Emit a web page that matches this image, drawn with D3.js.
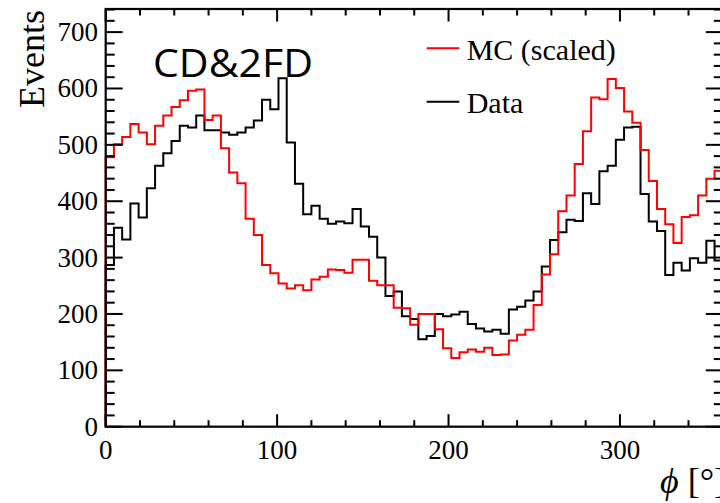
<!DOCTYPE html>
<html>
<head>
<meta charset="utf-8">
<script src="https://cdn.jsdelivr.net/npm/d3@7"></script>
<style>
  html, body { margin: 0; padding: 0; background: #fff; }
  svg { display: block; }
</style>
</head>
<body>
<svg id="chart" width="720" height="503"></svg>
<script>
// ---- data (75 bins of 4.8 degrees over 0..360) ----
const binWidth = 4.8;
const mcScaled = [478,501,514,537,522,501,534,552,567,579,596,598,544,552,494,451,432,369,340,287,
  272,254,245,251,242,261,266,279,278,273,296,296,259,251,251,211,210,181,200,200,
  173,139,122,132,137,133,140,127,128,153,163,172,216,270,306,382,410,466,524,584,
  581,617,601,559,539,491,436,386,359,326,372,375,410,440,454];
const dataCounts = [287,353,332,396,371,423,463,485,507,534,531,552,526,526,522,518,522,531,543,580,
  563,618,504,431,377,392,369,360,364,361,386,355,337,300,232,240,196,191,155,161,
  200,196,199,204,182,174,169,172,165,208,213,224,240,284,331,345,367,365,414,395,
  453,463,509,531,532,413,364,347,269,291,277,299,291,330,295];
const xMajorTicks = [0, 100, 200, 300];
const yMajorTicks = [0, 100, 200, 300, 400, 500, 600, 700];
const legendLabels = ["MC (scaled)", "Data"];
const tagText = "CD&2FD";

// ---- layout ----
const svg = d3.select("#chart");
const x = d3.scaleLinear().domain([0, 360]).range([105.7, 722.8]);
const y = d3.scaleLinear().domain([0, 741]).range([426.7, 9]);

const serif = "'Liberation Serif', 'Times New Roman', serif";

function histPath(values) {
  const pts = [[x(0), y(0)]];
  values.forEach((v, i) => {
    pts.push([x(i * binWidth), y(v)]);
    pts.push([x((i + 1) * binWidth), y(v)]);
  });
  return d3.line()(pts);
}

// histograms
svg.append("path").attr("d", histPath(dataCounts))
  .attr("fill", "none").attr("stroke", "#000").attr("stroke-width", 2);
svg.append("path").attr("d", histPath(mcScaled))
  .attr("fill", "none").attr("stroke", "#ff0000").attr("stroke-width", 2);

// ticks
const xMinor = d3.range(0, 361, 20);
const yMinor = d3.range(0, 741, 20);
const g = svg.append("g").attr("stroke", "#000").attr("stroke-width", 2);
xMinor.forEach(t => {
  const major = t % 100 === 0;
  const len = major ? 12.5 : 6.5;
  g.append("line").attr("x1", x(t)).attr("x2", x(t)).attr("y1", y(0)).attr("y2", y(0) - len);
  g.append("line").attr("x1", x(t)).attr("x2", x(t)).attr("y1", y.range()[1]).attr("y2", y.range()[1] + len);
});
yMinor.forEach(t => {
  const major = t % 100 === 0;
  const len = major ? 17 : 9;
  g.append("line").attr("x1", x(0)).attr("x2", x(0) + len).attr("y1", y(t)).attr("y2", y(t));
  g.append("line").attr("x1", x(360)).attr("x2", x(360) - len).attr("y1", y(t)).attr("y2", y(t));
});

// frame
svg.append("rect")
  .attr("x", x(0)).attr("y", y.range()[1])
  .attr("width", x(360) - x(0)).attr("height", y(0) - y.range()[1])
  .attr("fill", "none").attr("stroke", "#000").attr("stroke-width", 2.2);

// tick labels
svg.append("g").selectAll("text").data(xMajorTicks).join("text")
  .attr("x", d => x(d)).attr("y", 459)
  .attr("text-anchor", "middle")
  .attr("font-family", serif).attr("font-size", 27)
  .text(d => d);
svg.append("g").selectAll("text").data(yMajorTicks).join("text")
  .attr("x", 98).attr("y", d => y(d) + 9)
  .attr("text-anchor", "end")
  .attr("font-family", serif).attr("font-size", 27)
  .text(d => d);

// axis titles
svg.append("text")
  .attr("transform", "translate(44,10) rotate(-90)")
  .attr("text-anchor", "end")
  .attr("font-family", serif).attr("font-size", 36)
  .text("Events");
const xt = svg.append("text")
  .attr("x", 660).attr("y", 493)
  .attr("font-family", serif).attr("font-size", 36);
xt.append("tspan").attr("font-style", "italic").text("\u03D5");
xt.append("tspan").text(" [\u00B0]");

// tag
svg.append("text")
  .attr("x", 153).attr("y", 77)
  .attr("font-family", "'Open Sans', 'Noto Sans', sans-serif").attr("font-size", 38)
  .attr("textLength", 160).attr("lengthAdjust", "spacingAndGlyphs")
  .text(tagText);

// legend
const legendColors = ["#ff0000", "#000"];
const legendY = [48.3, 101.7];
legendLabels.forEach((lab, i) => {
  svg.append("line").attr("x1", 426.7).attr("x2", 459.3)
    .attr("y1", legendY[i]).attr("y2", legendY[i])
    .attr("stroke", legendColors[i]).attr("stroke-width", 2);
  svg.append("text").attr("x", 466.7).attr("y", legendY[i] + 11.5)
    .attr("font-family", serif).attr("font-size", 30)
    .text(lab);
});
</script>
</body>
</html>
